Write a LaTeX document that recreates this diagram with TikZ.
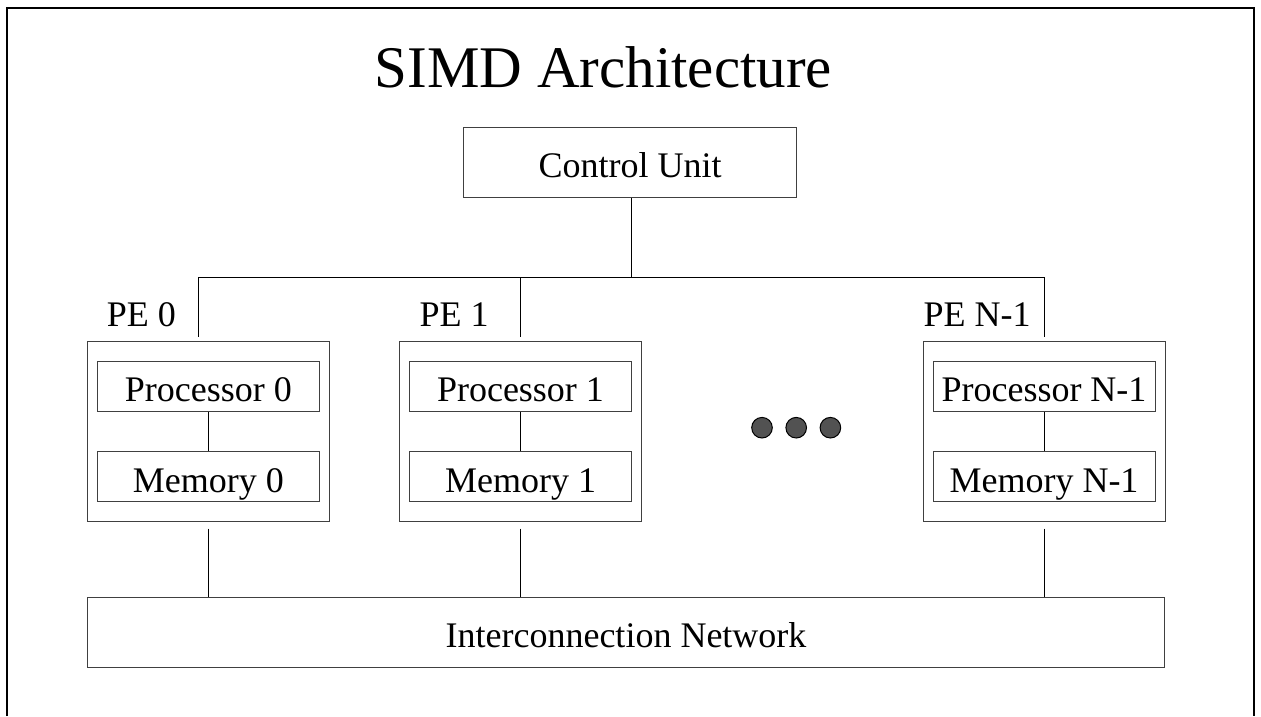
\documentclass[tikz,border=0pt]{standalone}
\usepackage{fontspec}
\setmainfont{Liberation Serif}
\usepackage{tikz}
\usetikzlibrary{positioning,calc}

\tikzset{
    unitbox/.style={draw=black!75, line width=1pt, inner sep=0pt,
        font=\fontsize{36}{40}\selectfont, text height=30pt, text depth=0pt},
    pebox/.style={draw=black!75, line width=1pt, inner sep=0pt,
        minimum width=242pt, minimum height=180pt},
    pelabel/.style={anchor=base west, inner sep=0pt, font=\fontsize{36}{40}\selectfont},
    titletext/.style={anchor=base, inner sep=0pt, font=\fontsize{59}{64}\selectfont},
    wire/.style={line width=1pt},
    dot/.style={circle, draw=black, fill=black!68, line width=1pt, minimum size=20.6pt, inner sep=0pt}
}

\begin{document}
\begin{tikzpicture}[x=1pt,y=-1pt]
    \useasboundingbox (0,0) rectangle (1261,716);
    % Frame
    \draw[line width=2pt] (7.3,716) -- (7.3,7.5) -- (1254.4,7.5) -- (1254.4,716);
    % Title
    \node[titletext] (title) at (603.5,87) {SIMD Architecture};

    % Control unit and bus
    \node[unitbox, minimum width=333pt, minimum height=70pt] (cu) at (630,162.7) {Control Unit};
    \coordinate (bus) at (631,277.3);
    \coordinate (busL) at (198.3,277.3);
    \coordinate (busR) at (1044,277.3);
    \draw[wire] (bus |- cu.south) -- (bus);
    \draw[wire] (busL) -- (busR);

    % Interconnection network
    \node[unitbox, minimum width=1077pt, minimum height=70pt] (net) at (626,632.5) {Interconnection Network};

    % Processing elements
    \foreach \i/\cx/\tap/\lx/\n in {0/208.3/198.3/106.7/0, 1/520.5/520.5/419.3/1, 2/1044/1044/923.3/N-1} {
        \node[pebox] (pe\i) at (\cx,431.7) {};
        \node[pelabel] (pelbl\i) at (\lx,326.7) {PE \n};
        \node[unitbox, minimum width=222pt, minimum height=49.5pt] (proc\i) at (\cx,386.3) {Processor \n};
        \node[unitbox, minimum width=222pt, minimum height=50pt, text height=32pt] (mem\i) at (\cx,476.7) {Memory \n};
        \draw[wire] (proc\i) -- (mem\i);
        \coordinate (tap\i) at (\tap,277.3);
        \draw[wire, shorten >=4.7pt] (tap\i) -- (tap\i |- pe\i.north);
        \draw[wire, shorten <=6.3pt] (pe\i.south) -- (pe\i.south |- net.north);
    }

    % Dots
    \foreach \d in {0,1,2} {
        \node[dot] (dot\d) at (762+34.2*\d,427.7) {};
    }
\end{tikzpicture}
\end{document}
